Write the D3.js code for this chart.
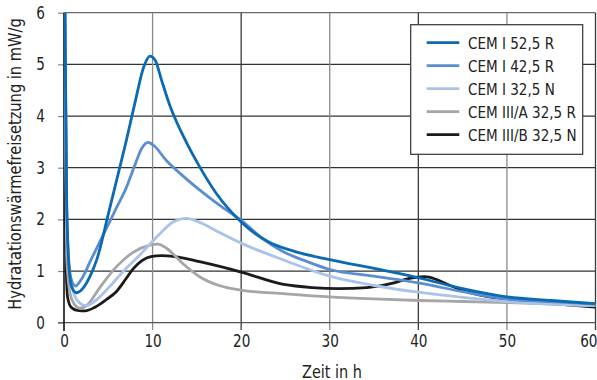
<!DOCTYPE html>
<html>
<head>
<meta charset="utf-8">
<script src="https://cdn.jsdelivr.net/npm/d3@7"></script>
<style>
  body { margin: 0; background: #fff; }
  text { font-family: "DejaVu Sans", sans-serif; fill: #222; }
</style>
</head>
<body>
<script>
// series labels, in legend order
var names = ["CEM I 52,5 R", "CEM I 42,5 R", "CEM I 32,5 N", "CEM III/A 32,5 R", "CEM III/B 32,5 N"];
var colors = ["#0a6ab4", "#5a8ed0", "#a9c4e8", "#a6a6a8", "#1c1a1b"];

// [Zeit in h, mW/g]
var cem525R = [[0.05, 7], [0.3, 2.4], [0.6, 1.0], [0.9, 0.68], [1.4, 0.58], [2.2, 0.68], [3, 0.92], [3.7, 1.22],
  [5, 2.1], [6, 2.8], [7, 3.5], [8, 4.25], [9, 4.95], [9.7, 5.16], [10.3, 5.08], [11, 4.7], [12, 4.18], [13.5, 3.6],
  [15.3, 3.02], [17.2, 2.5], [20, 1.95], [23, 1.57], [26, 1.38], [30, 1.22], [35, 1.05], [40, 0.87], [45, 0.66],
  [50, 0.5], [55, 0.43], [60, 0.37]];
var cem425R = [[0.05, 7], [0.3, 2.2], [0.6, 1.05], [0.9, 0.8], [1.3, 0.71], [2, 0.85], [3, 1.2], [4, 1.55],
  [5, 1.9], [6, 2.25], [7, 2.6], [8, 3.05], [8.8, 3.38], [9.5, 3.49], [10.2, 3.42], [11.5, 3.15], [13.1, 2.89],
  [15.3, 2.57], [17.5, 2.28], [20, 1.98], [22.5, 1.62], [24.8, 1.37], [27.5, 1.18], [30, 1.03], [35, 0.9],
  [40, 0.77], [45, 0.6], [50, 0.46], [55, 0.41], [60, 0.36]];
var cem325N = [[0.05, 7], [0.3, 1.8], [0.7, 0.9], [1.2, 0.52], [1.8, 0.38], [2.5, 0.33], [3.5, 0.42], [5, 0.67],
  [7, 1.05], [8.5, 1.3], [9.7, 1.52], [11, 1.75], [12.3, 1.95], [13.8, 2.02], [15.5, 1.93], [17.5, 1.75],
  [20, 1.54], [25, 1.2], [30, 0.9], [35, 0.72], [40, 0.59], [45, 0.49], [50, 0.41], [55, 0.36], [60, 0.33]];
var cem3A325R = [[0.05, 7], [0.3, 1.3], [0.7, 0.55], [1.2, 0.35], [1.8, 0.28], [2.6, 0.34], [4, 0.67],
  [5.9, 1.08], [7.8, 1.36], [9.7, 1.5], [10.6, 1.52], [11.5, 1.45], [12.5, 1.3], [13.5, 1.13], [15.3, 0.89],
  [17.5, 0.72], [20, 0.63], [25, 0.56], [30, 0.5], [35, 0.46], [40, 0.43], [45, 0.41], [50, 0.39],
  [55, 0.36], [60, 0.33]];
var cem3B325N = [[0.05, 7], [0.2, 1.5], [0.4, 0.5], [0.8, 0.3], [1.5, 0.24], [2.4, 0.23], [3.5, 0.3],
  [4.8, 0.45], [5.9, 0.6], [7, 0.85], [7.8, 1.04], [8.8, 1.2], [9.8, 1.28], [11, 1.3], [12.5, 1.28],
  [15.3, 1.18], [20, 0.98], [24.8, 0.74], [28, 0.68], [31, 0.66], [34.2, 0.68], [37, 0.76], [39, 0.86],
  [40.7, 0.89], [42, 0.84], [43.6, 0.72], [45.5, 0.6], [48, 0.5], [50, 0.45], [55, 0.37], [60, 0.3]];
var series = [cem525R, cem425R, cem325N, cem3A325R, cem3B325N];

var xTicks = [0, 10, 20, 30, 40, 50, 60];
var yTicks = [0, 1, 2, 3, 4, 5, 6];

var w = 597, h = 380;

// squeeze text horizontally, the original uses a condensed face
function condense(sel, k) {
  sel.each(function() {
    var l = this.getComputedTextLength();
    this.setAttribute("textLength", l * k);
    this.setAttribute("lengthAdjust", "spacingAndGlyphs");
  });
}

var x = d3.scaleLinear().domain([0, 60]).range([64, 595.5]);
var y = d3.scaleLinear().domain([0, 6]).range([322.7, 12.7]);

var svg = d3.select("body").append("svg")
  .attr("width", w)
  .attr("height", h);

// horizontal grid
svg.append("g").selectAll("line")
  .data(yTicks.slice(1))
  .enter().append("line")
  .attr("x1", x(0)).attr("x2", x(60))
  .attr("y1", d => y(d)).attr("y2", d => y(d))
  .attr("stroke", d => d == 6 ? "#6a6a6a" : "#333")
  .attr("stroke-width", 1.3);

// vertical grid, alternating grey / dark
svg.append("g").selectAll("line")
  .data(xTicks.slice(1))
  .enter().append("line")
  .attr("x1", d => x(d)).attr("x2", d => x(d))
  .attr("y1", y(6)).attr("y2", 330)
  .attr("stroke", d => (d / 10) % 2 == 1 ? "#8a8a8a" : "#3a3a3a")
  .attr("stroke-width", 1.3);

// x axis
var xAxis = svg.append("g")
  .attr("transform", "translate(0," + y(0) + ")")
  .call(d3.axisBottom(x).tickValues(xTicks).tickSize(0).tickPadding(12).tickFormat(d3.format("d")));
xAxis.select(".domain").remove();
xAxis.selectAll("text").style("font-size", "17px").attr("dy", "0.71em");
// last label sits against the right edge
xAxis.selectAll("text").filter(d => d == 60).attr("text-anchor", "end").attr("x", 597 - x(60));
condense(xAxis.selectAll("text"), 0.8);
svg.append("line")
  .attr("x1", 58).attr("x2", x(60))
  .attr("y1", y(0)).attr("y2", y(0))
  .attr("stroke", "#555").attr("stroke-width", 1.3);

// y axis
var yAxis = svg.append("g")
  .attr("transform", "translate(" + x(0) + ",0)")
  .call(d3.axisLeft(y).tickValues(yTicks).tickSize(6).tickPadding(13).tickFormat(d3.format("d")));
yAxis.select(".domain").remove();
yAxis.selectAll(".tick line").attr("stroke", "#888").attr("stroke-width", 1.2);
yAxis.selectAll("text").style("font-size", "17px");
condense(yAxis.selectAll("text"), 0.8);
svg.append("line")
  .attr("x1", x(0)).attr("x2", x(0))
  .attr("y1", y(6)).attr("y2", 331)
  .attr("stroke", "#111").attr("stroke-width", 1.6);

// curves
svg.append("clipPath").attr("id", "plot")
  .append("rect").attr("x", x(0)).attr("y", y(6)).attr("width", x(60) - x(0)).attr("height", y(0) - y(6));

var line = d3.line()
  .x(d => x(d[0]))
  .y(d => y(d[1]))
  .curve(d3.curveMonotoneX);

svg.append("g").attr("clip-path", "url(#plot)")
  .selectAll("path")
  .data(series.slice().reverse())
  .enter().append("path")
  .attr("d", line)
  .attr("fill", "none")
  .attr("stroke", (d, i) => colors[series.length - 1 - i])
  .attr("stroke-width", 2.8)
  .attr("stroke-linejoin", "round");

// legend
var legend = svg.append("g");
legend.append("rect")
  .attr("x", 410.7).attr("y", 24.7)
  .attr("width", 172).attr("height", 129.6)
  .attr("fill", "#fff").attr("stroke", "#333").attr("stroke-width", 1.2);

var rows = legend.selectAll("g.row")
  .data(names)
  .enter().append("g")
  .attr("class", "row")
  .attr("transform", (d, i) => "translate(0," + (42.7 + i * 23) + ")");
rows.append("line")
  .attr("x1", 426.7).attr("x2", 459.3)
  .attr("stroke", (d, i) => colors[i])
  .attr("stroke-width", 2.8);
rows.append("text")
  .attr("x", 468).attr("dy", "0.36em")
  .style("font-size", "16.5px")
  .text(d => d);
condense(rows.selectAll("text"), 0.82);

// titles
var xTitle = svg.append("text")
  .attr("x", 332).attr("y", 378)
  .attr("text-anchor", "middle")
  .style("font-size", "17px")
  .text("Zeit in h");
condense(xTitle, 0.85);

var yTitle = svg.append("text")
  .attr("transform", "translate(21,164) rotate(-90)")
  .attr("text-anchor", "middle")
  .style("font-size", "17px")
  .text("Hydratationswärmefreisetzung in mW/g");
condense(yTitle, 0.86);
</script>
</body>
</html>
